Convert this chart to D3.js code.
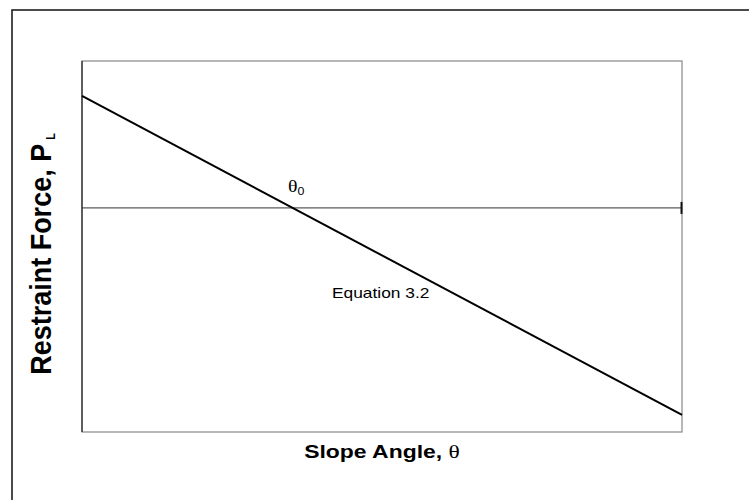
<!DOCTYPE html>
<html>
<head>
<meta charset="utf-8">
<script src="https://cdn.jsdelivr.net/npm/d3@7"></script>
<style>
  body { margin: 0; background: #fff; }
</style>
</head>
<body>
<div id="chart"></div>
<script>
// Values (no units on the axes)
const slopeAngle = [0, 10];
const restraintForce = [90.6, 4.6];
const thresholdForce = 60.4;
const theta0 = 3.55;

const margin = { top: 61, right: 67, bottom: 68, left: 82 };
const width = 749 - margin.left - margin.right;
const height = 500 - margin.top - margin.bottom;

// the source picture is stretched sideways, so text gets the same squeeze
const sx = 1.24;

const root = d3.select("#chart")
  .append("svg")
  .attr("width", 749)
  .attr("height", 500);

// outer frame (runs off the right and bottom edges)
root.append("rect")
  .attr("x", 12)
  .attr("y", 10)
  .attr("width", 760)
  .attr("height", 520)
  .attr("fill", "none")
  .attr("stroke", "#111")
  .attr("stroke-width", 1.5);

const svg = root.append("g")
  .attr("transform", `translate(${margin.left},${margin.top})`);

const x = d3.scaleLinear().domain([0, 10]).range([0, width]);
const y = d3.scaleLinear().domain([0, 100]).range([height, 0]);

// plot area border
svg.append("rect")
  .attr("width", width)
  .attr("height", height)
  .attr("fill", "none")
  .attr("stroke", "#888")
  .attr("stroke-width", 1.2);

// left axis line is black
svg.append("line")
  .attr("x1", 0).attr("x2", 0)
  .attr("y1", 0).attr("y2", height)
  .attr("stroke", "#222")
  .attr("stroke-width", 1.2);

// horizontal reference line
svg.append("line")
  .attr("x1", x(0)).attr("x2", x(10))
  .attr("y1", y(thresholdForce)).attr("y2", y(thresholdForce))
  .attr("stroke", "#333")
  .attr("stroke-width", 1);

// little tick at its right end
svg.append("line")
  .attr("x1", x(10) - 0.5).attr("x2", x(10) - 0.5)
  .attr("y1", y(thresholdForce) - 6).attr("y2", y(thresholdForce) + 6)
  .attr("stroke", "#111")
  .attr("stroke-width", 2);

// Equation 3.2 line
const pts = slopeAngle.map((d, i) => [d, restraintForce[i]]);
svg.append("path")
  .datum(pts)
  .attr("fill", "none")
  .attr("stroke", "#000")
  .attr("stroke-width", 2)
  .attr("d", d3.line().x((d) => x(d[0])).y((d) => y(d[1])));

// theta_0 label
const t0 = svg.append("text")
  .attr("transform", `translate(${x(theta0) - 7},${y(thresholdForce) - 16}) scale(${sx},1)`)
  .attr("font-family", "Liberation Serif, Times New Roman, serif")
  .attr("font-size", 16);
t0.append("tspan").text("θ");
t0.append("tspan")
  .attr("font-family", "Liberation Sans, Arial, sans-serif")
  .attr("font-size", 10)
  .attr("dy", 3)
  .text("0");

svg.append("text")
  .attr("transform", `translate(250,237) scale(${sx},1)`)
  .attr("font-family", "Liberation Sans, Arial, sans-serif")
  .attr("font-size", 14)
  .text("Equation 3.2");

// x axis title
const xt = root.append("text")
  .attr("transform", `translate(382,458) scale(${sx},1)`)
  .attr("text-anchor", "middle")
  .attr("font-family", "Liberation Sans, Arial, sans-serif")
  .attr("font-weight", "bold")
  .attr("font-size", 18.5);
xt.append("tspan").text("Slope Angle, ");
xt.append("tspan")
  .attr("font-family", "Liberation Serif, Times New Roman, serif")
  .attr("font-weight", "normal")
  .attr("font-size", 19)
  .text("θ");

// y axis title
const yt = root.append("text")
  .attr("transform", "translate(51,254) scale(1.12,1) rotate(-90)")
  .attr("text-anchor", "middle")
  .attr("font-family", "Liberation Sans, Arial, sans-serif")
  .attr("font-weight", "bold")
  .attr("font-size", 27);
yt.append("tspan").text("Restraint Force, P");
yt.append("tspan")
  .attr("font-size", 11)
  .attr("dx", 4)
  .attr("dy", 4)
  .text("L");
</script>
</body>
</html>
